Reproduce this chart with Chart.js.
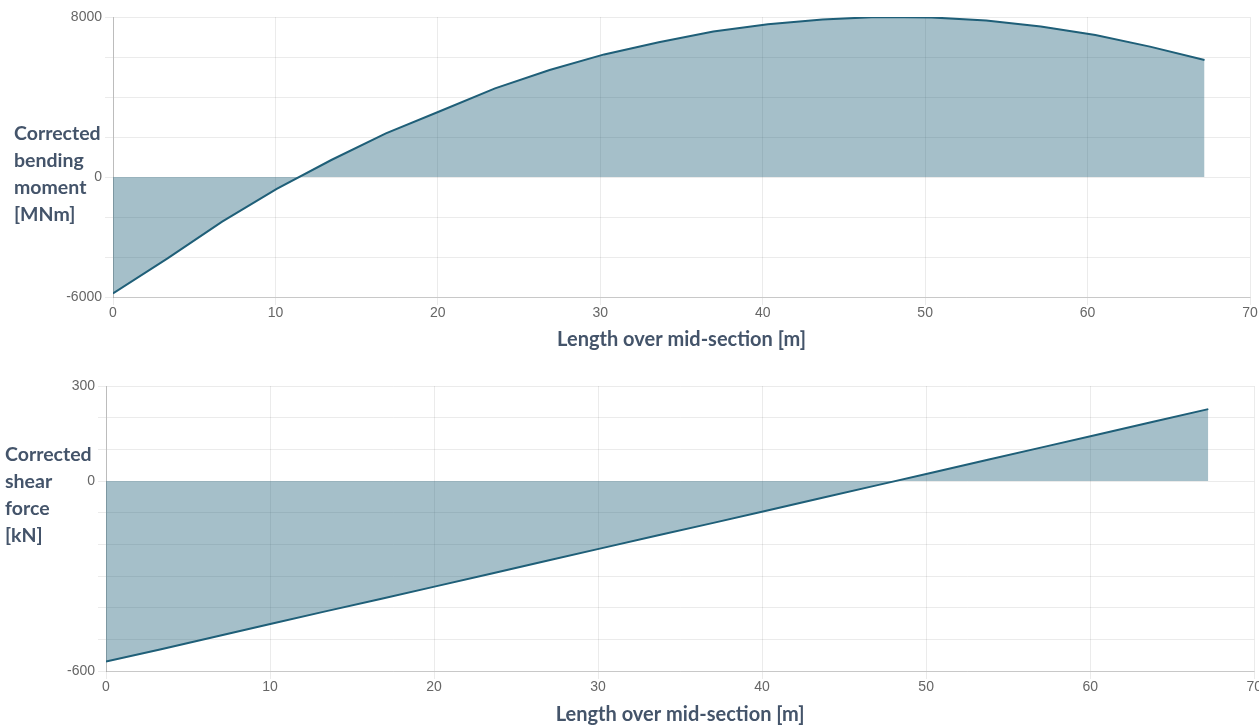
<!DOCTYPE html>
<html>
<head>
<meta charset="utf-8">
<script src="https://cdn.jsdelivr.net/npm/chart.js@4.4.1/dist/chart.umd.min.js"></script>
<style>
  html, body { margin: 0; padding: 0; background: #fff; overflow: hidden; width: 1259px; height: 727px; }
  .box { position: absolute; left: 0; width: 1262px; }
  .ytitle { position: absolute; font: bold 19.5px Lato, sans-serif; line-height: 27px; color: #44546a; }
</style>
</head>
<body>
<div class="box" style="top:0;height:356px"><canvas id="moment"></canvas></div>
<div class="box" style="top:360px;height:371px"><canvas id="shear"></canvas></div>
<div class="ytitle" style="left:14px;top:119px">Corrected<br>bending<br>moment<br>[MNm]</div>
<div class="ytitle" style="left:5px;top:440px">Corrected<br>shear<br>force<br>[kN]</div>

<script>
// positions along the ship [m]
const lengthM = [0, 3.36, 6.72, 10.08, 13.44, 16.8, 20.16, 23.52, 26.88, 30.24, 33.6,
                 36.96, 40.32, 43.68, 47.04, 50.4, 53.76, 57.12, 60.48, 63.84, 67.2];

// corrected bending moment [MNm]
const bendingMoment = [-5820, -4070, -2230, -590, 850, 2180, 3300, 4430, 5350, 6130, 6740,
                       7270, 7640, 7880, 8000, 7980, 7820, 7520, 7100, 6520, 5850];

// corrected shear force [kN]
const shearForce = [-570, -531, -491, -451, -411, -372, -332, -292, -252, -212, -172,
                    -133, -93, -53, -13, 27, 67, 107, 147, 187, 227];

const xTicks = [0, 10, 20, 30, 40, 50, 60, 70];
const momentLabels = [8000, 0, -6000];
const shearLabels = [300, 0, -600];

const lineColor = '#1f5f78';
const fillColor = 'rgba(31, 95, 120, 0.4)';
const titleColor = '#44546a';

function makeChart(id, values, yMin, yMax, yStep, yLabels, yWidth, xHeight, pad) {
    const ctx = document.getElementById(id);
    return new Chart(ctx, {
        type: 'line',
        data: {
            datasets: [{
                data: lengthM.map((x, i) => ({ x: x, y: values[i] })),
                borderColor: lineColor,
                backgroundColor: fillColor,
                borderWidth: 2,
                pointRadius: 0,
                tension: 0,
                fill: 'origin'
            }]
        },
        options: {
            responsive: true,
            maintainAspectRatio: false,
            animation: false,
            layout: { padding: pad },
            plugins: {
                legend: { display: false },
                tooltip: { enabled: false }
            },
            scales: {
                x: {
                    type: 'linear',
                    min: 0,
                    max: 70,
                    afterBuildTicks: s => { s.ticks = xTicks.map(v => ({ value: v })); },
                    afterFit: s => { s.height = xHeight; },
                    grid: { color: 'rgba(0,0,0,0.08)' },
                    border: { color: 'rgba(0,0,0,0.15)' },
                    ticks: { color: '#666', font: { size: 14 }, padding: 0 },
                    title: {
                        display: true,
                        text: 'Length over mid-section [m]',
                        color: titleColor,
                        font: { family: 'Lato', size: 20, weight: 'bold' }
                    }
                },
                y: {
                    min: yMin,
                    max: yMax,
                    afterFit: s => { s.width = yWidth; },
                    grid: { color: 'rgba(0,0,0,0.08)' },
                    border: { color: 'rgba(0,0,0,0.2)' },
                    ticks: {
                        stepSize: yStep,
                        color: '#666',
                        font: { size: 14 },
                        callback: v => yLabels.includes(v) ? v : ''
                    }
                }
            }
        }
    });
}

makeChart('moment', bendingMoment, -6000, 8000, 2000, momentLabels, 113, 59,
          { top: 17, right: 12, left: 0, bottom: 0 });
makeChart('shear', shearForce, -600, 300, 100, shearLabels, 106, 60,
          { top: 26, right: 4, left: 0, bottom: 0 });
</script>
</body>
</html>
